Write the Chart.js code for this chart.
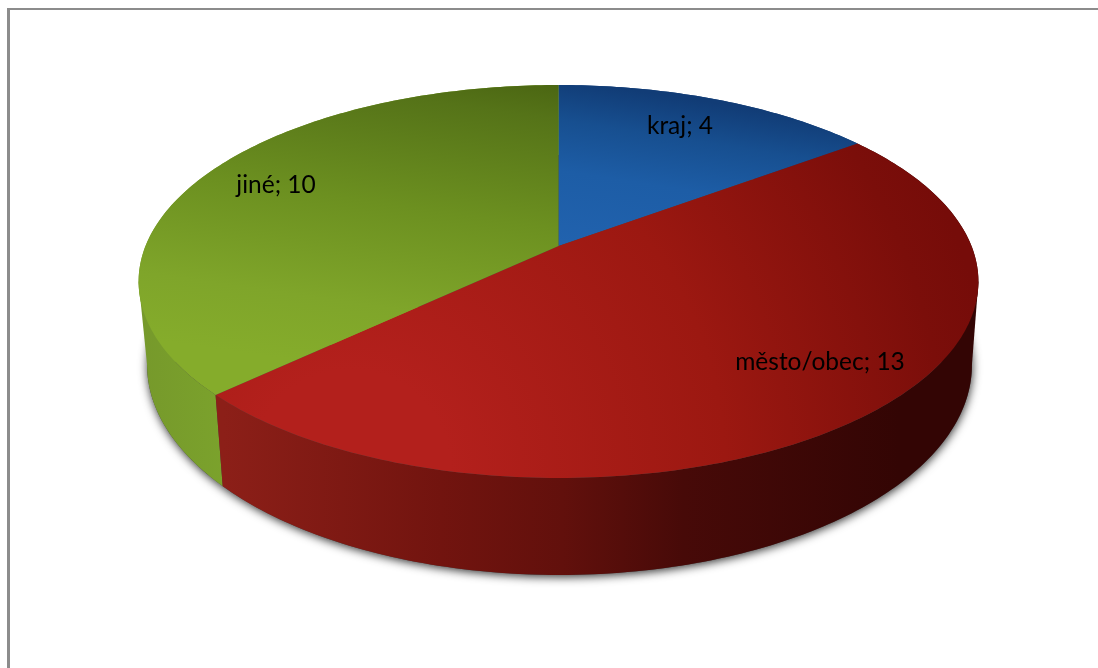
<!DOCTYPE html>
<html>
<head>
<meta charset="utf-8">
<script src="https://cdn.jsdelivr.net/npm/chart.js@4"></script>
<style>
  html, body { margin: 0; background: #fff; overflow: hidden; }
  #frame { position: absolute; left: 7px; top: 8px; width: 1091px; height: 660px; box-sizing: border-box;
           border-top: 2px solid #8c8c8c; border-left: 3px solid #8c8c8c; }
  #wrap { position: absolute; left: 0; top: 0; width: 1098px; height: 668px; }
</style>
</head>
<body>
<div id="frame"></div>
<div id="wrap"><canvas id="kolac"></canvas></div>
<script>
// dados
const categories = ['kraj', 'město/obec', 'jiné'];
const values = [4, 13, 10];

// perspective of the top face: disc (u, v) -> screen
const cx = 558.5, apexY = 246, kx = 413, ky = 145.6, persp = -0.1807;
// bottom rim relative to the top ellipse
const topCy = 281.5, topRx = 420, topRy = 196.5;
const botCx = 559.5, botCy = 365, botRx = 412.5, botRy = 210;

const labelPos = [[680, 134], [820, 370], [276, 193]];

function topPoint(a) {
    const u = Math.cos(a), v = Math.sin(a), w = 1 + persp * v;
    return [cx + kx * u / w, (ky * v + apexY) / w];
}
function botPoint(a) {
    const p = topPoint(a);
    return [botCx + (p[0] - cx) * botRx / topRx, botCy + (p[1] - topCy) * botRy / topRy];
}
function rim(ctx, fn, a0, a1, first) {
    const n = Math.max(2, Math.ceil(Math.abs(a1 - a0) * 60));
    for (let i = 0; i <= n; i++) {
        const p = fn(a0 + (a1 - a0) * i / n);
        if (i === 0 && first) ctx.moveTo(p[0], p[1]); else ctx.lineTo(p[0], p[1]);
    }
}
function stops(g, list) {
    list.forEach(s => g.addColorStop(s[0], s[1]));
    return g;
}

function topFill(ctx, i) {
    if (i === 0) {
        return stops(ctx.createLinearGradient(600, 85, 575, 245),
            [[0, '#113c76'], [0.25, '#174f90'], [0.56, '#1d5da6'], [1, '#2162ae']]);
    }
    if (i === 1) {
        return stops(ctx.createRadialGradient(350, 470, 100, 350, 470, 650),
            [[0, '#b3201c'], [0.5, '#9c1811'], [0.9, '#7b0e0a'], [1, '#760c09']]);
    }
    return stops(ctx.createLinearGradient(560, 85, 516, 392),
        [[0, '#4b6612'], [0.11, '#557318'], [0.46, '#6c9020'], [0.79, '#7fa52a'], [1, '#85ac2b']]);
}
function sideFill(ctx, i) {
    if (i === 2) return stops(ctx.createLinearGradient(140, 0, 224, 0), [[0, '#76992b'], [1, '#7ba22c']]);
    if (i === 0) return '#123e78';
    return stops(ctx.createLinearGradient(224, 0, 900, 0),
        [[0, '#8c1f18'], [0.32, '#72140f'], [0.5, '#62100c'], [0.68, '#470a08'], [1, '#330504']]);
}

const pie3d = {
    id: 'pie3d',
    beforeDatasetDraw(chart) {
        const ctx = chart.ctx;
        const arcs = chart.getDatasetMeta(0).data;

        // shadow under the bottom rim
        ctx.save();
        ctx.shadowColor = 'rgba(0,0,0,0.8)';
        ctx.shadowBlur = 10;
        ctx.shadowOffsetX = 0.5;
        ctx.shadowOffsetY = 2;
        ctx.fillStyle = '#444';
        ctx.beginPath();
        rim(ctx, botPoint, 0, Math.PI * 2, true);
        ctx.closePath();
        ctx.fill();
        ctx.restore();

        // sides
        const widest = Math.asin(-persp);
        [0, 2, 1].forEach(i => {
            const el = arcs[i];
            ctx.fillStyle = sideFill(ctx, i);
            ctx.beginPath();
            rim(ctx, topPoint, el.startAngle, el.endAngle, true);
            rim(ctx, botPoint, el.endAngle, el.startAngle, false);
            ctx.closePath();
            ctx.fill();
            // close the silhouette where the rim turns away (left and right extremes)
            if (i !== 0) {
                const turn = i === 2 ? Math.PI - widest : widest;
                const t = topPoint(turn), b = botPoint(turn);
                ctx.beginPath();
                ctx.moveTo(t[0], t[1]);
                ctx.lineTo(b[0], b[1]);
                ctx.lineTo(cx, 320);
                ctx.closePath();
                ctx.fill();
            }
        });

        // top faces
        arcs.forEach((el, i) => {
            ctx.beginPath();
            ctx.moveTo(cx, apexY);
            rim(ctx, topPoint, el.startAngle, el.endAngle, false);
            ctx.closePath();
            ctx.fillStyle = topFill(ctx, i);
            ctx.fill();
        });

        // labels
        ctx.save();
        ctx.font = '24.5px Lato';
        ctx.fillStyle = '#000';
        ctx.textAlign = 'center';
        ctx.textBaseline = 'alphabetic';
        categories.forEach((c, i) => {
            ctx.fillText(c + '; ' + values[i], labelPos[i][0], labelPos[i][1]);
        });
        ctx.restore();
        return false;
    }
};

new Chart(document.getElementById('kolac'), {
    type: 'pie',
    data: {
        labels: categories,
        datasets: [{ data: values, borderWidth: 0, backgroundColor: ['#1f5fa8', '#a81e1a', '#7ba22c'] }]
    },
    options: {
        responsive: true,
        maintainAspectRatio: false,
        animation: false,
        plugins: { legend: { display: false }, tooltip: { enabled: false } }
    },
    plugins: [pie3d]
});
</script>
</body>
</html>
